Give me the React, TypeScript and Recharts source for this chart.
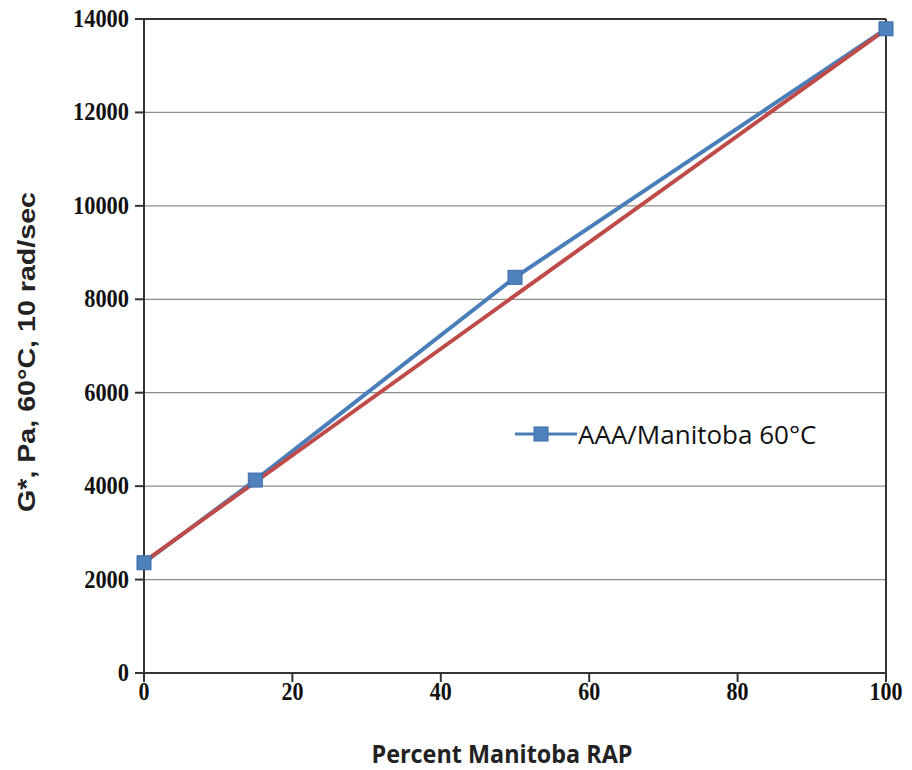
import React from "react";
import {
  LineChart,
  Line,
  XAxis,
  YAxis,
  CartesianGrid,
  Legend,
  ReferenceLine,
} from "recharts";

const percentRap = [0, 15, 50, 100];
const gStar = [2360, 4130, 8470, 13790];
const trendValues = [2380, null, null, 13780];
const xTicks = [0, 20, 40, 60, 80, 100];
const yTicks = [0, 2000, 4000, 6000, 8000, 10000, 12000, 14000];
const seriesName = "AAA/Manitoba 60°C";
const xTitle = "Percent Manitoba RAP";
const yTitle = "G*, Pa, 60°C, 10 rad/sec";

const data = percentRap.map((x, i) => ({
  x,
  g: gStar[i],
  trend: trendValues[i],
}));

const BLUE = "#4A7EBB";
const RED = "#BE4B48";

const SquareDot = (props: any) => {
  const { cx, cy } = props;
  if (cx == null || cy == null) return null;
  return (
    <rect
      x={cx - 7}
      y={cy - 7}
      width={14}
      height={14}
      fill="#4F81BD"
      stroke="#3A6BA5"
      strokeWidth={1}
    />
  );
};

const LegendContent = () => (
  <div style={{ display: "flex", alignItems: "center" }}>
    <svg width={62} height={20} style={{ display: "block" }}>
      <line x1={0} y1={10} x2={62} y2={10} stroke={BLUE} strokeWidth={3} />
      <rect x={19} y={3} width={14} height={14} fill="#4F81BD" stroke="#3A6BA5" />
    </svg>
    <span
      style={{
        fontFamily: "'Open Sans', sans-serif",
        fontSize: 26,
        color: "#111",
        marginLeft: 1,
        lineHeight: "30px",
      }}
    >
      {seriesName}
    </span>
  </div>
);

const XTick = (props: any) => {
  const { x, y, payload } = props;
  return (
    <g transform={`translate(${x},${y}) scale(1,1.15)`}>
      <text
        x={0}
        y={0}
        dy={14}
        textAnchor="middle"
        fontFamily="'Liberation Serif', serif"
        fontWeight={700}
        fontSize={22}
        fill="#111"
      >
        {payload.value}
      </text>
    </g>
  );
};

const YTick = (props: any) => {
  const { x, y, payload } = props;
  return (
    <g transform={`translate(${x},${y}) scale(1,1.15)`}>
      <text
        x={-4}
        y={0}
        dy={7}
        textAnchor="end"
        fontFamily="'Liberation Serif', serif"
        fontWeight={700}
        fontSize={22}
        fill="#111"
        textLength={String(payload.value).length * 11.2}
        lengthAdjust="spacingAndGlyphs"
      >
        {payload.value}
      </text>
    </g>
  );
};

const XTitle = (props: any) => {
  const vb = props.viewBox || { x: 0, y: 0, width: 0, height: 0 };
  const cx = vb.x + vb.width / 2 - 13;
  const by = vb.y + vb.height - 7;
  return (
    <text
      x={cx}
      y={by}
      textAnchor="middle"
      fontFamily="'Open Sans', sans-serif"
      fontWeight={700}
      fontSize={25}
      fill="#222"
      textLength={261}
      lengthAdjust="spacingAndGlyphs"
    >
      {xTitle}
    </text>
  );
};

const YTitle = (props: any) => {
  const vb = props.viewBox || { x: 0, y: 0, width: 0, height: 0 };
  const bx = vb.x + 35;
  const cy = vb.y + vb.height / 2 + 6;
  return (
    <text
      x={bx}
      y={cy}
      transform={`rotate(-90, ${bx}, ${cy})`}
      textAnchor="middle"
      fontFamily="'Liberation Sans', Arial, sans-serif"
      fontWeight={700}
      fontSize={24}
      fill="#222"
      textLength={320}
      lengthAdjust="spacingAndGlyphs"
    >
      {yTitle}
    </text>
  );
};

export default function App() {
  return (
    <div style={{ marginLeft: -8, marginTop: -8, background: "#fff" }}>
      <LineChart
        width={912}
        height={770}
        data={data}
        margin={{ top: 19, right: 26, left: 0, bottom: 0 }}
      >
        <CartesianGrid
          vertical={false}
          stroke="#8c8c8c"
          strokeWidth={1.3}
        />
        <XAxis
          dataKey="x"
          type="number"
          domain={[0, 100]}
          ticks={xTicks}
          height={97}
          stroke="#333"
          strokeWidth={2}
          tickSize={9}
          tickLine={{ stroke: "#333", strokeWidth: 2 }}
          tick={<XTick />}
          label={<XTitle />}
        />
        <YAxis
          type="number"
          domain={[0, 14000]}
          ticks={yTicks}
          width={144}
          stroke="#333"
          strokeWidth={2}
          tickSize={9}
          tickLine={{ stroke: "#333", strokeWidth: 2 }}
          tick={<YTick />}
          label={<YTitle />}
        />
        <ReferenceLine y={14000} stroke="#333" strokeWidth={2} />
        <ReferenceLine x={100} stroke="#333" strokeWidth={2} />
        <Line
          dataKey="g"
          stroke={BLUE}
          strokeWidth={4}
          dot={false}
          isAnimationActive={false}
          legendType="none"
        />
        <Line
          dataKey="trend"
          stroke={RED}
          strokeWidth={4}
          dot={false}
          connectNulls
          isAnimationActive={false}
          legendType="none"
        />
        <Line
          dataKey="g"
          name={seriesName}
          stroke="none"
          dot={<SquareDot />}
          activeDot={false}
          isAnimationActive={false}
        />
        <Legend
          verticalAlign="middle"
          align="center"
          content={<LegendContent />}
          wrapperStyle={{ position: "absolute", left: 515, top: 419, width: "auto" }}
        />
      </LineChart>
    </div>
  );
}
